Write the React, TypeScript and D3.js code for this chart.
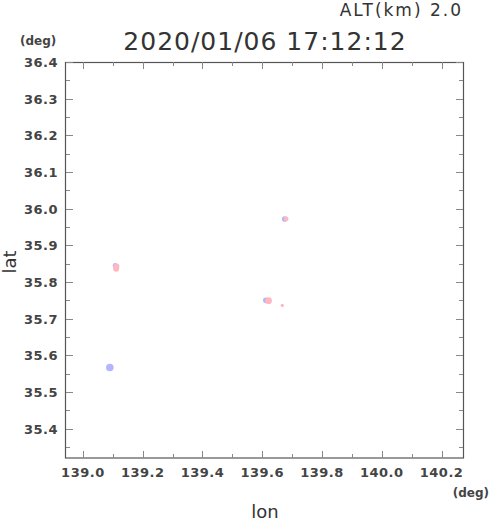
import React, { useRef, useEffect } from "react";
import * as d3 from "d3";

// marker positions (lon, lat)
const bluePoints = [
  { lon: 139.09, lat: 35.567, r: 3.8 },
  { lon: 139.108, lat: 35.845, r: 2.5 },
  { lon: 139.675, lat: 35.972, r: 2.8 },
  { lon: 139.612, lat: 35.75, r: 2.8 },
];
const pinkPoints = [
  { lon: 139.112, lat: 35.842, r: 3.0 },
  { lon: 139.111, lat: 35.836, r: 3.0 },
  { lon: 139.68, lat: 35.972, r: 2.4 },
  { lon: 139.621, lat: 35.749, r: 3.4 },
  { lon: 139.667, lat: 35.736, r: 1.6 },
];
const lonTicks = [139.0, 139.2, 139.4, 139.6, 139.8, 140.0, 140.2];
const latTicks = [35.4, 35.5, 35.6, 35.7, 35.8, 35.9, 36.0, 36.1, 36.2, 36.3, 36.4];
const title = "2020/01/06 17:12:12";
const altLabel = "ALT(km) 2.0";

const width = 490;
const height = 521;

const App = () => {
  const ref = useRef(null);

  useEffect(() => {
    if (!ref.current) return;
    const svg = d3.select(ref.current);
    svg.selectAll("*").remove();

    const x = d3.scaleLinear().domain([138.94, 140.275]).range([65, 464]);
    const y = d3.scaleLinear().domain([35.32, 36.4]).range([458, 62]);
    const grey = "#444";
    const font = "DejaVu Sans, sans-serif";

    // frame
    svg
      .append("rect")
      .attr("x", 65.5)
      .attr("y", 62.5)
      .attr("width", 398)
      .attr("height", 395.5)
      .attr("fill", "none")
      .attr("stroke", "#555")
      .attr("stroke-width", 1.2);

    // ticks
    const lonMinor = d3.range(139.0, 140.25, 0.1);
    const ticks = svg.append("g").attr("stroke", "#888").attr("stroke-width", 1);
    lonMinor.forEach((v, i) => {
      const len = i % 2 === 0 ? 7 : 4;
      const px = Math.round(x(v)) + 0.5;
      ticks.append("line").attr("x1", px).attr("x2", px).attr("y1", 458).attr("y2", 458 - len);
      ticks.append("line").attr("x1", px).attr("x2", px).attr("y1", 62).attr("y2", 62 + len);
    });
    const latMinor = d3.range(35.35, 36.41, 0.05);
    latMinor.forEach((v, i) => {
      const len = i % 2 === 1 ? 7 : 4;
      const py = Math.round(y(v)) + 0.5;
      ticks.append("line").attr("x1", 66).attr("x2", 66 + len).attr("y1", py).attr("y2", py);
      ticks.append("line").attr("x1", 463).attr("x2", 463 - len).attr("y1", py).attr("y2", py);
    });

    // tick labels
    svg
      .append("g")
      .selectAll("text")
      .data(lonTicks)
      .join("text")
      .attr("x", (d) => x(d))
      .attr("y", 477)
      .attr("text-anchor", "middle")
      .attr("font-family", font)
      .attr("font-weight", "bold")
      .attr("font-size", 13)
      .attr("letter-spacing", 0.5)
      .attr("fill", grey)
      .text((d) => d.toFixed(1));

    svg
      .append("g")
      .selectAll("text")
      .data(latTicks)
      .join("text")
      .attr("x", 58)
      .attr("y", (d) => y(d) + 5)
      .attr("text-anchor", "end")
      .attr("font-family", font)
      .attr("font-weight", "bold")
      .attr("font-size", 13)
      .attr("letter-spacing", 0.5)
      .attr("fill", grey)
      .text((d) => d.toFixed(1));

    // markers
    const dots = svg.append("g");
    dots
      .selectAll("circle.b")
      .data(bluePoints)
      .join("circle")
      .attr("class", "b")
      .attr("cx", (d) => x(d.lon))
      .attr("cy", (d) => y(d.lat))
      .attr("r", (d) => d.r)
      .attr("fill", "#b4b4ff");
    dots
      .selectAll("circle.p")
      .data(pinkPoints)
      .join("circle")
      .attr("class", "p")
      .attr("cx", (d) => x(d.lon))
      .attr("cy", (d) => y(d.lat))
      .attr("r", (d) => d.r)
      .attr("fill", "#ffb8c0");

    // texts
    svg
      .append("text")
      .attr("x", 265)
      .attr("y", 50)
      .attr("text-anchor", "middle")
      .attr("font-family", font)
      .attr("font-size", 25)
      .attr("letter-spacing", 1)
      .attr("fill", "#333")
      .text(title);
    svg
      .append("text")
      .attr("x", 463)
      .attr("y", 16)
      .attr("text-anchor", "end")
      .attr("font-family", font)
      .attr("font-size", 17)
      .attr("letter-spacing", 2)
      .attr("fill", "#333")
      .text(altLabel);
    svg
      .append("text")
      .attr("x", 20)
      .attr("y", 45)
      .attr("font-family", font)
      .attr("font-weight", "bold")
      .attr("font-size", 12)
      .attr("fill", grey)
      .text("(deg)");
    svg
      .append("text")
      .attr("x", 489)
      .attr("y", 497)
      .attr("text-anchor", "end")
      .attr("font-family", font)
      .attr("font-weight", "bold")
      .attr("font-size", 12)
      .attr("fill", grey)
      .text("(deg)");
    svg
      .append("text")
      .attr("x", 265)
      .attr("y", 518)
      .attr("text-anchor", "middle")
      .attr("font-family", font)
      .attr("font-size", 18)
      .attr("fill", "#333")
      .text("lon");
    svg
      .append("text")
      .attr("transform", "translate(16,262) rotate(-90)")
      .attr("text-anchor", "middle")
      .attr("font-family", font)
      .attr("font-size", 18)
      .attr("fill", "#333")
      .text("lat");
  }, []);

  return (
    <svg
      ref={ref}
      width={width}
      height={height}
      style={{ position: "absolute", left: 0, top: 0, background: "#fff" }}
    />
  );
};

export default App;
